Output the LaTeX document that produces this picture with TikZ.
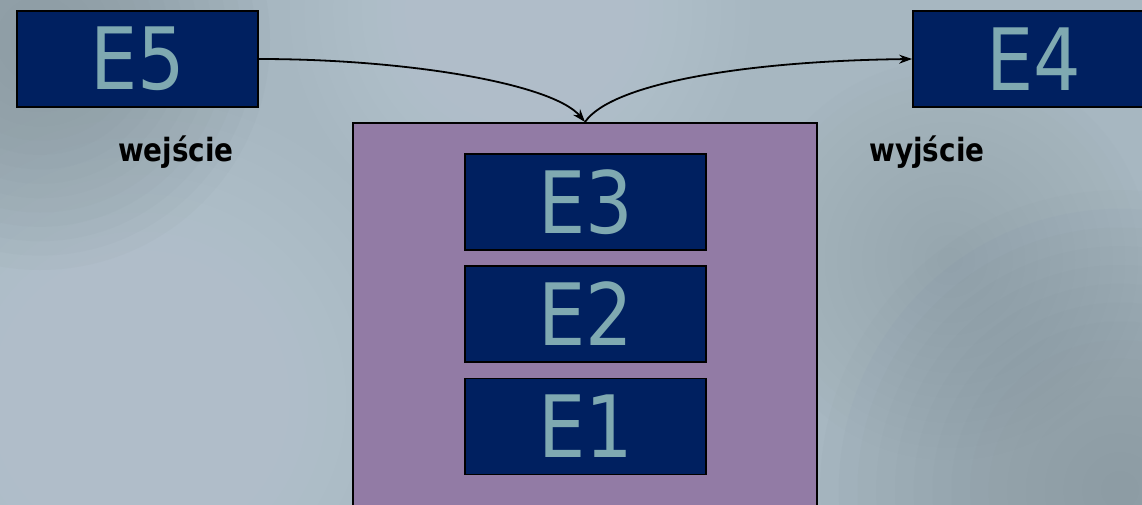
\documentclass[tikz,border=0pt]{standalone}
\usepackage{fontspec}
\setmainfont{DejaVu Sans}[FakeStretch=0.87]
\usetikzlibrary{arrows.meta}
\definecolor{bgbase}{HTML}{A7B7C1}
\definecolor{bgdark}{HTML}{87969C}
\definecolor{bglight}{HTML}{BCC9D5}
\definecolor{eblue}{HTML}{002060}
\definecolor{eteal}{HTML}{7FA9B1}
\definecolor{epurple}{HTML}{927BA5}
\tikzset{
  ebox/.style={draw=black, line width=1.8pt, fill=eblue, text=eteal,
    minimum width=241pt, minimum height=96pt, inner sep=0pt,
    font=\fontsize{86}{86}\selectfont},
  lbl/.style={font=\fontsize{32}{32}\selectfont\bfseries, text=black, inner sep=0pt},
  conn/.style={draw=black, line width=1.8pt, -{Stealth[length=13pt,width=9pt]}}
}
\newcommand{\myblob}[5]{% center x, center y, radius, colour, opacity
  \foreach \k in {1,...,16}{\fill[#4, opacity=#5] (#1,#2) circle ({#3*(17-\k)/16});}}
\begin{document}
\begin{tikzpicture}[x=1pt,y=1pt]
\useasboundingbox (0,0) rectangle (1142,-504);
\fill[bgbase] (-2,2) rectangle (1144,-506);
\myblob{140}{-400}{300}{bglight}{0.08}
\myblob{40}{-40}{230}{bgdark}{0.07}
\myblob{520}{-10}{230}{bglight}{0.08}
\myblob{1120}{-490}{300}{bgdark}{0.07}
\myblob{950}{-260}{200}{bgdark}{0.03}

\node[draw=black, line width=1.8pt, fill=epurple, minimum width=464pt, minimum height=420pt, inner sep=0pt, anchor=north] (stack) at (585,-122) {};
\node[ebox] (e5) at (137.5,-59) {E5};
\node[ebox, minimum width=242pt] (e4) at (1034,-59) {E4};
\node[ebox] (e3) at (585.5,-202) {E3};
\node[ebox] (e2) at (585.5,-314) {E2};
\node[ebox] (e1) at (585.5,-426.5) {E1};
\node[lbl] (we) at (176,-152) {wejście};
\node[lbl] (wy) at (927,-152) {wyjście};

\draw[conn] (e5.east) .. controls +(150,0) and +(-32,38) .. (stack.north);
\draw[conn] (stack.north) .. controls +(26,38) and +(-170,-2) .. (e4.west);
\end{tikzpicture}
\end{document}
